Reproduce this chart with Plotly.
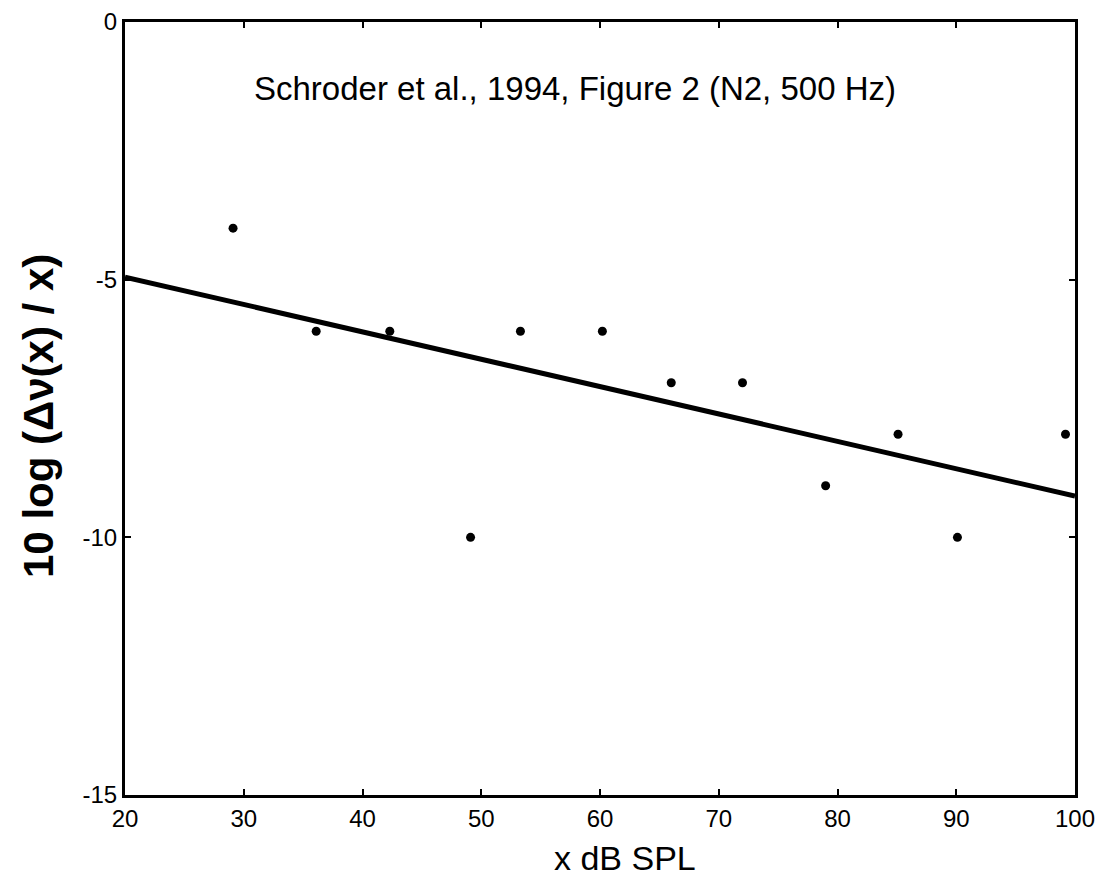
import plotly.graph_objects as go

# Data
x_spl = [29.1, 36.1, 42.3, 49.1, 53.3, 60.2, 66.0, 72.0, 79.0, 85.1, 90.1, 99.2]
y_val = [-4, -6, -6, -10, -6, -6, -7, -7, -9, -8, -10, -8]
fit_x = [20, 100]
fit_y = [-4.95, -9.2]

x_ticks = [20, 30, 40, 50, 60, 70, 80, 90, 100]
y_ticks = [0, -5, -10, -15]
y_tick_text = ["0", "-5", "-10", "-15"]

fig = go.Figure()
fig.add_trace(go.Scatter(x=fit_x, y=fit_y, mode="lines",
                         line=dict(color="black", width=5), showlegend=False))
fig.add_trace(go.Scatter(x=x_spl, y=y_val, mode="markers",
                         marker=dict(color="black", size=9), showlegend=False))

font = dict(family="Liberation Sans, Arial, sans-serif", color="black")

fig.add_annotation(text="Schroder et al., 1994, Figure 2 (N2, 500 Hz)",
                   x=(575 - 125) / 950, y=1 - (88 - 22) / 773, xref="paper", yref="paper",
                   showarrow=False, xanchor="center", yanchor="middle",
                   font=dict(size=33, **font))
fig.add_annotation(text="x dB SPL",
                   x=(625 - 125) / 950, y=-(858 - 795) / 773, xref="paper", yref="paper",
                   showarrow=False, xanchor="center", yanchor="middle",
                   font=dict(size=34, **font))
fig.add_annotation(text="<b>10 log (Δν(x) / x)</b>",
                   x=(38 - 125) / 950, y=1 - (416 - 22) / 773, xref="paper", yref="paper",
                   showarrow=False, xanchor="center", yanchor="middle", textangle=-90,
                   font=dict(size=42, **font))

fig.update_layout(
    width=1101, height=874,
    paper_bgcolor="white", plot_bgcolor="white",
    margin=dict(l=117, r=34, t=14, b=87, autoexpand=False),
    font=font,
    xaxis=dict(range=[20, 100], tickvals=x_ticks, ticks="inside", ticklen=6,
               tickwidth=1.5, tickcolor="black", automargin=False,
               showline=True, linecolor="black", linewidth=3, mirror="ticks",
               showgrid=False, zeroline=False,
               tickfont=dict(size=24, **font)),
    yaxis=dict(range=[-15, 0], tickvals=y_ticks, ticktext=y_tick_text,
               ticks="inside", ticklen=6, automargin=False,
               tickwidth=1.5, tickcolor="black",
               showline=True, linecolor="black", linewidth=3, mirror="ticks",
               showgrid=False, zeroline=False,
               tickfont=dict(size=24, **font)),
)

fig.write_html("out.html")
